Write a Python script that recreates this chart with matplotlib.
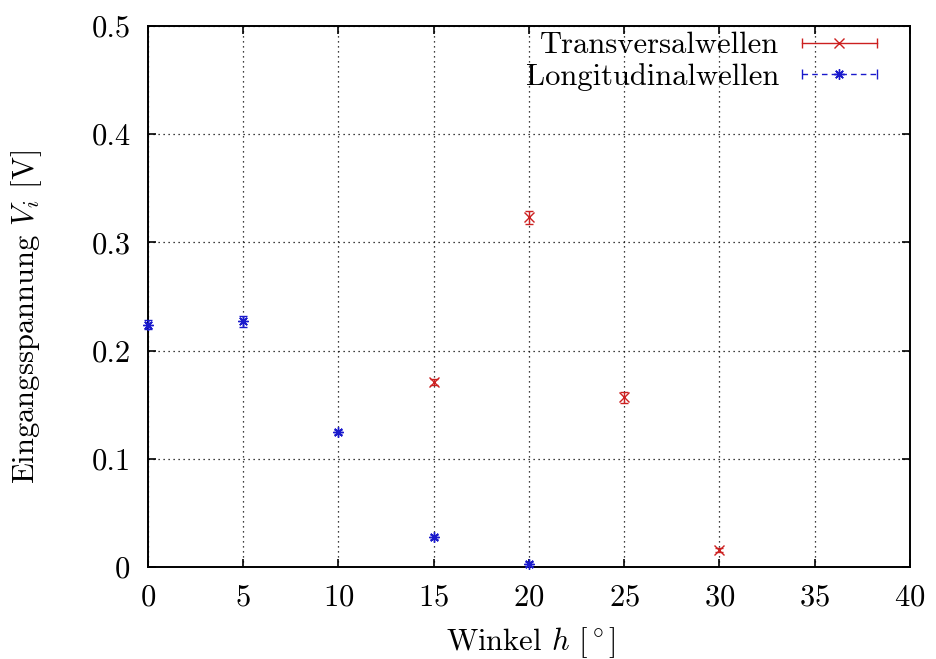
import matplotlib
matplotlib.use("Agg")
import matplotlib.pyplot as plt
from matplotlib.lines import Line2D
from matplotlib.legend_handler import HandlerLine2D, HandlerTuple
from matplotlib.ticker import FuncFormatter

plt.rcParams['font.family'] = ['cmr10', 'DejaVu Serif']
plt.rcParams['mathtext.fontset'] = 'cm'
plt.rcParams['axes.formatter.use_mathtext'] = True

# data
trans_x = [15, 20, 25, 30]
trans_y = [0.171, 0.323, 0.157, 0.016]
trans_err = [0.003, 0.006, 0.005, 0.002]

long_x = [0, 5, 10, 15, 20]
long_y = [0.224, 0.227, 0.125, 0.028, 0.003]
long_err = [0.004, 0.005, 0.002, 0.002, 0.002]

xticks = [0, 5, 10, 15, 20, 25, 30, 35, 40]
yticks = [0, 0.1, 0.2, 0.3, 0.4, 0.5]

red = '#cc2020'
blue = '#1a1acc'
star = (8, 2, 0)

FS = 22

fig = plt.figure(figsize=(9.36, 6.59), dpi=100)
ax = fig.add_axes([0.158, 0.1396, 0.814, 0.821])

ax.errorbar(trans_x, trans_y, yerr=trans_err, fmt='x', color=red, ms=6.5, mew=1,
            capsize=3, elinewidth=1, capthick=1, clip_on=False, zorder=3)
ax.errorbar(long_x, long_y, yerr=long_err, fmt='none', ecolor=blue,
            capsize=3, elinewidth=1, capthick=1, clip_on=False, zorder=3)
ax.plot(long_x, long_y, linestyle='none', marker=star, color=blue, ms=7.5, mew=1,
        clip_on=False, zorder=3)

ax.set_xlim(0, 40)
ax.set_ylim(0, 0.5)
ax.set_xticks(xticks)
ax.set_yticks(yticks)
ax.yaxis.set_major_formatter(FuncFormatter(lambda v, p: '0' if v == 0 else f'{v:.1f}'))
ax.tick_params(direction='in', top=True, right=True, length=6, width=1.2,
               labelsize=FS, pad=12.5)
for s in ax.spines.values():
    s.set_linewidth(1.4)
ax.grid(True, linestyle=(0, (1, 3)), color='black', linewidth=0.9)
ax.set_axisbelow(True)

ax.set_xlabel(r'Winkel $h$ [$^\circ$]', fontsize=FS)
ax.set_ylabel(r'Eingangsspannung $V_i$ [V]', fontsize=FS)
ax.xaxis.set_label_coords(0.502, -0.108)
ax.yaxis.set_label_coords(-0.136, 0.462)

# legend handles
t_line = Line2D([], [], color=red, lw=1, marker='|', ms=7, mew=1)
t_mark = Line2D([], [], color=red, linestyle='none', marker='x', ms=6.5, mew=1)
l_line = Line2D([], [], color=blue, lw=1, linestyle=(0, (4, 3)), marker='|', ms=7, mew=1)
l_mark = Line2D([], [], color=blue, linestyle='none', marker=star, ms=7.5, mew=1)
hmap = {t_line: HandlerLine2D(numpoints=2), l_line: HandlerLine2D(numpoints=2),
        t_mark: HandlerLine2D(numpoints=1), l_mark: HandlerLine2D(numpoints=1),
        tuple: HandlerTuple(ndivide=1)}
leg = fig.legend([(t_line, t_mark), (l_line, l_mark)],
                 ['Transversalwellen', 'Longitudinalwellen'],
                 handler_map=hmap, loc='upper right',
                 bbox_to_anchor=(886 / 936, 1 - 32 / 659),
                 frameon=False, markerfirst=False, fontsize=FS,
                 handlelength=3.05, handletextpad=0.45, labelspacing=0.12,
                 borderpad=0, borderaxespad=0, alignment='right')

fig.savefig('out.png', dpi=100)
